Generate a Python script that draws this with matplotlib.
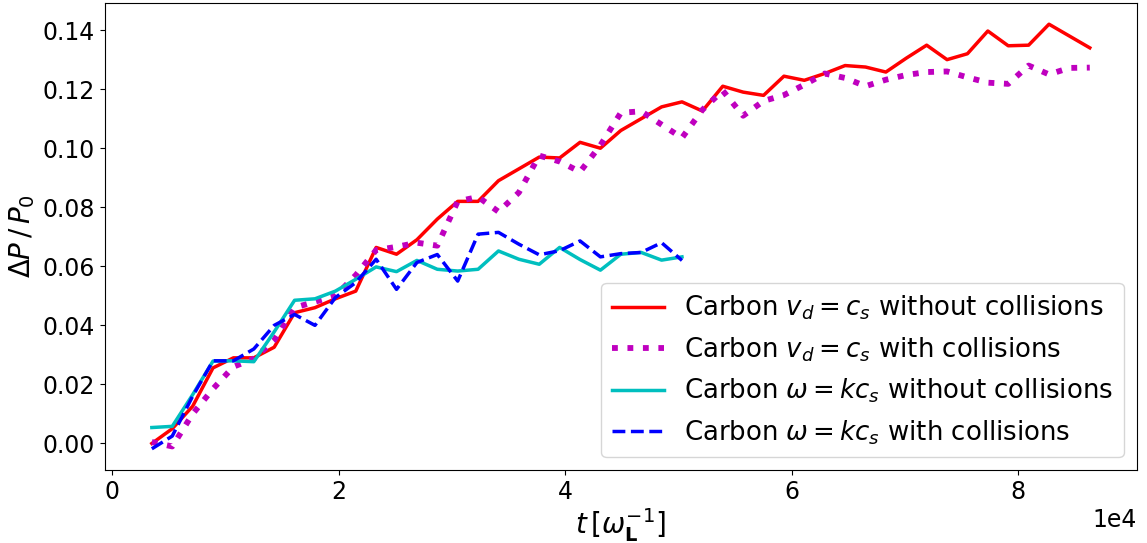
import matplotlib
matplotlib.use("Agg")
import matplotlib.pyplot as plt

# time samples (omega_L^-1)
t_long = [3500, 5300, 7100, 8900, 10700, 12500, 14300, 16100, 17900, 19700,
          21500, 23300, 25100, 26900, 28700, 30500, 32300, 34100, 35900, 37700,
          39500, 41300, 43100, 44900, 46700, 48500, 50300, 52100, 53900, 55700,
          57500, 59300, 61100, 62900, 64700, 66500, 68300, 70100, 71900, 73700,
          75500, 77300, 79100, 80900, 82700, 84500, 86300]
t_short = t_long[:27]

# Carbon v_d = c_s, without collisions
vd_nocoll = [0.000, 0.005, 0.0126, 0.0256, 0.029, 0.029, 0.0326, 0.0443, 0.046, 0.049,
             0.0516, 0.0664, 0.0641, 0.069, 0.076, 0.082, 0.082, 0.089, 0.093, 0.097,
             0.0967, 0.102, 0.100, 0.106, 0.110, 0.114, 0.1157, 0.1126, 0.121, 0.119,
             0.1179, 0.1244, 0.123, 0.1253, 0.128, 0.1275, 0.1258, 0.1305, 0.1349, 0.130,
             0.132, 0.1397, 0.1347, 0.1349, 0.142, 0.138, 0.134]

# Carbon v_d = c_s, with collisions
vd_coll = [0.0005, -0.001, 0.010, 0.0185, 0.026, 0.0287, 0.035, 0.046, 0.048, 0.050,
           0.057, 0.0655, 0.0666, 0.068, 0.067, 0.082, 0.0835, 0.0785, 0.085, 0.0975,
           0.0955, 0.092, 0.101, 0.112, 0.1125, 0.108, 0.1035, 0.113, 0.1195, 0.111,
           0.116, 0.118, 0.1215, 0.1253, 0.1238, 0.121, 0.1232, 0.1248, 0.1258, 0.126,
           0.124, 0.1222, 0.1218, 0.128, 0.125, 0.1272, 0.1273]

# Carbon omega = k c_s, without collisions
om_nocoll = [0.0054, 0.0058, 0.0165, 0.0279, 0.028, 0.0277, 0.0378, 0.0485, 0.049, 0.0516,
             0.0556, 0.0598, 0.0582, 0.062, 0.059, 0.0584, 0.059, 0.0652, 0.0624, 0.0607,
             0.0664, 0.0623, 0.0587, 0.0641, 0.0647, 0.0621, 0.0632]

# Carbon omega = k c_s, with collisions
om_coll = [-0.0018, 0.0025, 0.016, 0.028, 0.028, 0.032, 0.040, 0.0437, 0.040, 0.0494,
           0.0545, 0.0624, 0.0522, 0.0613, 0.064, 0.055, 0.0709, 0.0715, 0.0675, 0.0639,
           0.0653, 0.0686, 0.0632, 0.0643, 0.0647, 0.068, 0.062]

labels = [r"Carbon $v_d = c_s$ without collisions",
          r"Carbon $v_d = c_s$ with collisions",
          r"Carbon $\omega = kc_s$ without collisions",
          r"Carbon $\omega = kc_s$ with collisions"]

fs = 17
fig, ax = plt.subplots(figsize=(11.47, 5.43), dpi=100)
fig.subplots_adjust(left=0.0915, right=0.991, bottom=0.1344, top=0.9945)

ax.plot(t_long, vd_nocoll, color="r", lw=2.5, label=labels[0])
ax.plot(t_long, vd_coll, color="m", lw=4.2, linestyle=":", label=labels[1])
ax.plot(t_short, om_nocoll, color="c", lw=2.5, label=labels[2])
ax.plot(t_short, om_coll, color="b", lw=2.5, linestyle="--", label=labels[3])

ax.ticklabel_format(style="sci", axis="x", scilimits=(0, 0))
ax.set_xlabel(r"$t\,[\omega_{\mathbf{L}}^{-1}]$", fontsize=20, labelpad=2)
ax.set_ylabel(r"$\Delta P\,/\,P_0$", fontsize=20, labelpad=4)
ax.tick_params(labelsize=fs)
ax.xaxis.get_offset_text().set_fontsize(fs)
ax.legend(loc="lower right", fontsize=18.7)

fig.savefig("out.png", dpi=100)
